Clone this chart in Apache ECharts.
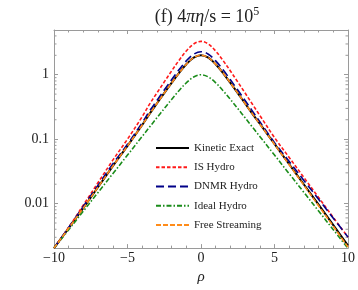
<!DOCTYPE html>
<html>
<head>
<meta charset="utf-8">
<script src="https://cdn.jsdelivr.net/npm/echarts@6/dist/echarts.min.js"></script>
<style>html,body{margin:0;padding:0;background:#fff}#c{width:358px;height:290px}</style>
</head>
<body>
<div id="c"></div>
<script>
const rho = [-10,-9,-8,-7,-6,-5,-4,-3.5,-3,-2.5,-2,-1.5,-1,-0.5,0,0.5,1,1.5,2,2.5,3,3.5,4,5,6,7,8,9,10];
const kinetic = [0.00204,0.00417,0.00857,0.01807,0.0381,0.0785,0.166,0.2466,0.358,0.519,0.746,1.060,1.452,1.837,2.009,1.837,1.452,1.060,0.746,0.519,0.358,0.2466,0.1738,0.0843,0.0408,0.0198,0.00962,0.00463,0.00224];
const isHydro = [0.00204,0.00429,0.00953,0.02123,0.0472,0.100,0.2239,0.3487,0.520,0.7727,1.142,1.663,2.329,2.994,3.296,2.994,2.329,1.663,1.142,0.7727,0.520,0.3487,0.2339,0.1059,0.0519,0.0254,0.01245,0.0061,0.00302];
const dnmr = [0.00204,0.00427,0.00908,0.01932,0.0412,0.0832,0.1799,0.2723,0.3972,0.578,0.8356,1.191,1.639,2.078,2.275,2.078,1.639,1.191,0.8356,0.578,0.3972,0.2723,0.1866,0.0883,0.04498,0.02291,0.01167,0.00594,0.00302];
const ideal = [0.00204,0.003935,0.007661,0.01493,0.02908,0.05662,0.1103,0.1538,0.2145,0.2985,0.4134,0.5652,0.7487,0.923,1.0,0.923,0.7487,0.5652,0.4134,0.2985,0.2145,0.1538,0.1103,0.05662,0.02908,0.01493,0.007661,0.003935,0.00202];
const freeStreaming = [0.00204,0.00417,0.00857,0.01807,0.0381,0.0785,0.166,0.2466,0.358,0.519,0.746,1.060,1.452,1.837,2.009,1.837,1.452,1.060,0.746,0.519,0.358,0.2466,0.172,0.0832,0.0401,0.01928,0.00927,0.00445,0.00211];
const seriesNames = ['Kinetic Exact','IS Hydro','DNMR Hydro','Ideal Hydro','Free Streaming'];
const yTickLabels = [0.01, 0.1, 1];
const xTickLabels = [-10, -5, 0, 5, 10];
const yMinorTicks = [0.003,0.004,0.005,0.006,0.007,0.008,0.009,0.02,0.03,0.04,0.05,0.06,0.07,0.08,0.09,0.2,0.3,0.4,0.5,0.6,0.7,0.8,0.9,2,3,4];

const serif = '"Liberation Serif","DejaVu Serif",serif';
const frame = '#9a9a9a';
function pairs(ys){ return rho.map((r,i)=>[r, ys[i]]); }

const chart = echarts.init(document.getElementById('c'), null, {renderer:'canvas'});
const yFmt = function(v){
  for (const t of yTickLabels) { if (Math.abs(v - t) / t < 1e-6) return String(t); }
  return '';
};
const xFmt = function(v){
  for (const t of xTickLabels) { if (Math.abs(v - t) < 1e-9) return t < 0 ? '\u2212' + Math.abs(t) : String(t); }
  return '';
};
const commonX = {
  type:'value', min:-10, max:10, interval:5,
  axisLine:{show:true, onZero:false, lineStyle:{color:frame, width:1}},
  axisTick:{show:true, inside:true, length:4, lineStyle:{color:frame}},
  minorTick:{show:true, splitNumber:5, length:2.5, lineStyle:{color:frame}},
  splitLine:{show:false}, minorSplitLine:{show:false}
};
const commonY = {
  type:'log', logBase:10, min:0.00204, max:4.94,
  axisLine:{show:true, onZero:false, lineStyle:{color:frame, width:1}},
  axisTick:{show:true, inside:true, length:4, lineStyle:{color:frame}},
  splitLine:{show:false}
};
const lineSeries = function(name, ys, color, width, dash){
  return {
    name:name, type:'line', data:pairs(ys), symbol:'none', showSymbol:false,
    smooth:0.35, xAxisIndex:0, yAxisIndex:0,
    lineStyle:{color:color, width:width, type:dash},
    itemStyle:{color:color}
  };
};
chart.setOption({
  animation:false,
  backgroundColor:'#fff',
  title:{
    text:'{n|(f) 4}{i|\u03c0\u03b7}{n|/s = 10}{s|5}',
    left:202, top:1, textAlign:'center',
    textStyle:{
      fontWeight:'normal',
      rich:{
        n:{fontFamily:serif, fontSize:18, fontWeight:'normal', color:'#222', lineHeight:22},
        i:{fontFamily:serif, fontSize:18, fontWeight:'normal', fontStyle:'italic', color:'#222', lineHeight:22},
        s:{fontFamily:serif, fontSize:12, fontWeight:'normal', color:'#222', lineHeight:13, verticalAlign:'top'}
      }
    }
  },
  grid:{left:54, right:8, top:30, bottom:39, containLabel:false},
  legend:{
    orient:'vertical', left:155, top:142.3, padding:0,
    itemWidth:33, itemHeight:14, itemGap:8.05,
    data:seriesNames,
    itemStyle:{opacity:0},
    textStyle:{fontFamily:serif, fontSize:11, color:'#222'},
    selectedMode:false
  },
  xAxis:[
    Object.assign({}, commonX, {
      position:'bottom', name:'\u03c1', nameLocation:'middle', nameGap:21,
      nameTextStyle:{fontFamily:serif, fontSize:15, fontStyle:'italic', color:'#222'},
      axisLabel:{show:true, formatter:xFmt, fontFamily:serif, fontSize:14, color:'#222', margin:3}
    }),
    Object.assign({}, commonX, {position:'top', axisLabel:{show:false}})
  ],
  yAxis:[
    Object.assign({}, commonY, {
      position:'left',
      axisLabel:{show:true, formatter:yFmt, fontFamily:serif, fontSize:14, color:'#222', margin:5}
    }),
    Object.assign({}, commonY, {position:'right', axisLabel:{show:false}})
  ],
  series:[
    {
      type:'custom', silent:true, xAxisIndex:0, yAxisIndex:0, z:1,
      data:yMinorTicks.map(v=>[0, v]),
      renderItem:function(params, api){
        const v = api.value(1);
        const pl = api.coord([-10, v]);
        const pr = api.coord([10, v]);
        const st = {stroke:frame, lineWidth:1};
        return {type:'group', children:[
          {type:'line', shape:{x1:pl[0], y1:pl[1], x2:pl[0]+2.5, y2:pl[1]}, style:st},
          {type:'line', shape:{x1:pr[0], y1:pr[1], x2:pr[0]-2.5, y2:pr[1]}, style:st}
        ]};
      }
    },
    lineSeries('Kinetic Exact', kinetic, '#000000', 2, 'solid'),
    lineSeries('IS Hydro', isHydro, '#ff1a1a', 1.6, [3.5,2]),
    lineSeries('DNMR Hydro', dnmr, '#000088', 1.6, [8,4]),
    lineSeries('Ideal Hydro', ideal, '#1a8c1a', 1.6, [5,2,1.5,2]),
    lineSeries('Free Streaming', freeStreaming, '#ff8c1a', 1.6, [5,2])
  ]
});
</script>
</body>
</html>
